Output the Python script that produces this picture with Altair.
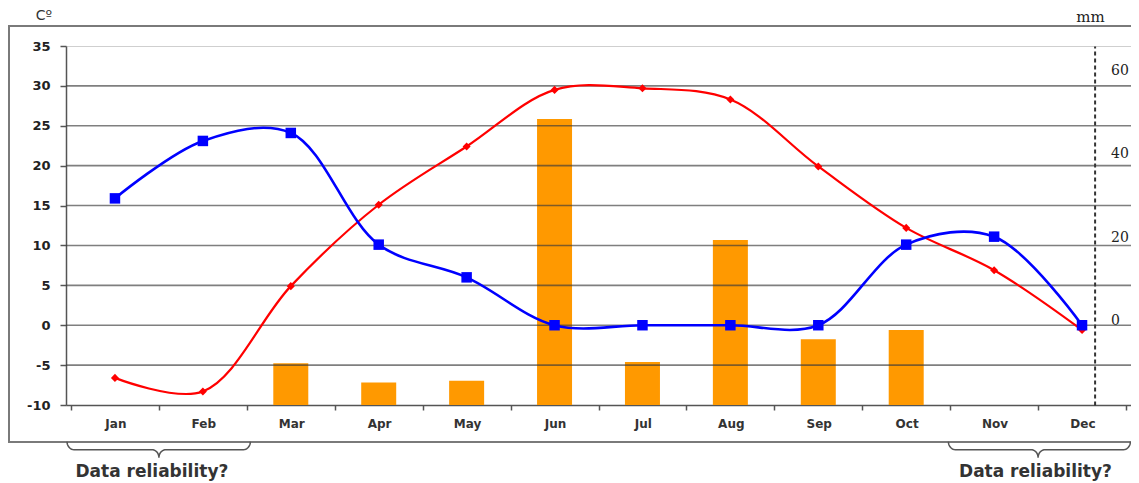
import json
import numpy as np
import pandas as pd
import altair as alt

# ---------------- data ----------------
months = ["Jan", "Feb", "Mar", "Apr", "May", "Jun",
          "Jul", "Aug", "Sep", "Oct", "Nov", "Dec"]
red_series = [-6.6, -8.3, 4.9, 15.1, 22.4, 29.5, 29.7, 28.3, 19.9, 12.2, 6.9, -0.6]
blue_series = [15.9, 23.1, 24.1, 10.1, 6.0, 0.0, 0.0, 0.0, 0.0, 10.1, 11.1, 0.0]
bar_mm = [None, None, -10.3, -14.9, -14.5, 48.4, -10.0, 19.3, -4.5, -2.3, None, None]
left_ticks = [-10, -5, 0, 5, 10, 15, 20, 25, 30, 35]
grid_values = [-5, 0, 5, 10, 15, 20, 25, 30]
right_ticks = [0, 20, 40, 60]
note_text = "Data reliability?"
note_x = [0.42, 10.47]
note_y = -18.4
brace_spans = [(-0.545, 0.5, 1.54), (9.48, 10.5, 11.55)]

# ---------------- layout ----------------
W, H = 1065, 359
bw = W / 12.0
t_dom = [-10, 35]
mm_dom = [-20.3, 65.9]
px_per_c = H / (t_dom[1] - t_dom[0])

idx = list(range(12))
df = pd.DataFrame({"m": idx, "month": months, "red": red_series,
                   "blue": blue_series})
bars_df = pd.DataFrame({"m": [i for i, v in zip(idx, bar_mm) if v is not None],
                        "mm": [v for v in bar_mm if v is not None]})

x_scale = alt.Scale(domain=[-0.5, 11.5], nice=False, zero=False)
t_scale = alt.Scale(domain=t_dom, nice=False, zero=False)
mm_scale = alt.Scale(domain=mm_dom, nice=False, zero=False)

label_expr = ("datum.value < 11 ? " + json.dumps(months) +
              "[round(datum.value + 0.5)] : ''")
x_axis = alt.Axis(values=[i - 0.5 for i in range(13)], labelExpr=label_expr,
                  labelOffset=bw / 2, labelFlush=False, labelOverlap=False,
                  labelBound=False, grid=False, title=None,
                  domainColor="#555", domainWidth=1.5,
                  tickColor="#555", tickWidth=1.5, tickSize=5,
                  labelPadding=8, labelFont="DejaVu Sans", labelFontSize=12,
                  labelFontWeight="bold", labelColor="#333")

left_axis = alt.Axis(orient="left", values=left_ticks, grid=False,
                     labelExpr="'' + datum.value",
                     domainColor="#555", domainWidth=1.5,
                     tickColor="#555", tickWidth=1.5, tickSize=6,
                     labelPadding=10, labelFont="DejaVu Sans",
                     labelFontSize=13, labelFontWeight="bold",
                     labelColor="#222",
                     title="Cº", titleAngle=0, titleX=-22.5, titleY=-31,
                     titleAlign="center", titleBaseline="middle",
                     titleFont="DejaVu Sans", titleFontSize=14,
                     titleFontWeight="normal", titleColor="#333")

right_axis = alt.Axis(orient="right", values=right_ticks, grid=False,
                      offset=-36.4, domainDash=[4, 3], domainColor="#333",
                      domainWidth=2, ticks=False, tickSize=0,
                      labelPadding=16, labelFont="DejaVu Serif",
                      labelFontSize=14, labelColor="#222",
                      title="mm", titleAngle=0, titleX=-4.6, titleY=-30,
                      titleAlign="center", titleBaseline="middle",
                      titleFont="DejaVu Serif", titleFontSize=15,
                      titleFontWeight="normal", titleColor="#222")

# ---------------- braces (decoration shape) ----------------
rx = 7.0 / bw
ry = 8.0 / px_per_c
y_top = -14.6
y_mid = y_top - ry
y_tip = y_mid - ry
t = np.linspace(0, np.pi / 2, 10)
rows = []
for b, (x0, xm, x1) in enumerate(brace_spans):
    xs = np.concatenate([
        x0 + rx - rx * np.cos(t),
        xm - rx + rx * np.sin(t),
        xm + rx - rx * np.cos(t),
        x1 - rx + rx * np.sin(t),
    ])
    ys = np.concatenate([
        y_top - ry * np.sin(t),
        y_tip + ry * np.cos(t),
        y_tip + ry * np.sin(t),
        y_top - ry * np.cos(t),
    ])
    for i, (xv, yv) in enumerate(zip(xs, ys)):
        rows.append({"b": b, "i": i, "x": float(xv), "y": float(yv)})
brace_df = pd.DataFrame(rows)
notes_df = pd.DataFrame({"x": note_x, "y": [note_y, note_y],
                         "t": [note_text, note_text]})

# ---------------- layers ----------------
frame = alt.Chart(pd.DataFrame({"a": [0]})).mark_rect(
    fillOpacity=0, stroke="#7a7a7a", strokeWidth=2
).encode(x=alt.value(-57), x2=alt.value(W + 100),
         y=alt.value(-20), y2=alt.value(396))

bars = alt.Chart(bars_df).mark_bar(size=35, color="#ff9900").encode(
    x=alt.X("m:Q", scale=x_scale, axis=x_axis),
    y=alt.Y("mm:Q", scale=mm_scale, axis=right_axis),
    y2=alt.datum(mm_dom[0]),
)

grid = alt.Chart(pd.DataFrame({"v": grid_values})).mark_rule(
    color="#3a3a3a", opacity=0.65, strokeWidth=1.6
).encode(y=alt.Y("v:Q", scale=t_scale, axis=left_axis))

red_line = alt.Chart(df).mark_line(
    interpolate="catmull-rom", color="#ff0000", strokeWidth=2.2
).encode(x=alt.X("m:Q", scale=x_scale, axis=x_axis),
         y=alt.Y("red:Q", scale=t_scale, axis=None))

red_pts = alt.Chart(df).mark_point(
    shape="diamond", filled=True, size=65, color="#ff0000", opacity=1
).encode(x=alt.X("m:Q", scale=x_scale, axis=x_axis),
         y=alt.Y("red:Q", scale=t_scale, axis=None))

blue_line = alt.Chart(df).mark_line(
    interpolate="catmull-rom", color="#0000ff", strokeWidth=2.6
).encode(x=alt.X("m:Q", scale=x_scale, axis=x_axis),
         y=alt.Y("blue:Q", scale=t_scale, axis=None))

blue_pts = alt.Chart(df).mark_square(
    size=110, color="#0000ff", opacity=1
).encode(x=alt.X("m:Q", scale=x_scale, axis=x_axis),
         y=alt.Y("blue:Q", scale=t_scale, axis=None))

braces = alt.Chart(brace_df).mark_line(
    color="#555", strokeWidth=1.5, clip=False
).encode(x=alt.X("x:Q", scale=x_scale, axis=x_axis),
         y=alt.Y("y:Q", scale=t_scale, axis=None),
         detail="b:N", order="i:Q")

notes = alt.Chart(notes_df).mark_text(
    font="DejaVu Sans", fontSize=17, fontWeight="bold", color="#333",
    align="center", baseline="middle", clip=False
).encode(x=alt.X("x:Q", scale=x_scale, axis=x_axis),
         y=alt.Y("y:Q", scale=t_scale, axis=None),
         text="t:N")

chart = alt.layer(
    frame, bars, grid, red_line, red_pts, blue_line, blue_pts, braces, notes
).resolve_scale(y="independent").properties(
    width=W, height=H,
    padding={"left": 58, "top": 38, "right": 0, "bottom": 78},
    autosize=alt.AutoSizeParams(type="none"),
).configure_view(stroke="#cfcfcf", strokeWidth=1)

chart.save("out.html", embed_options={"renderer": "svg", "actions": False})
